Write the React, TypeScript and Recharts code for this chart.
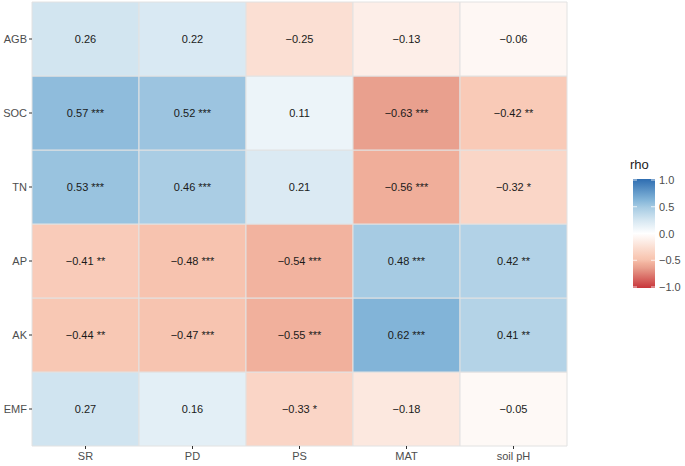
import { Bar, BarChart, Cell, LabelList, XAxis, YAxis } from 'recharts';

const columns = ['SR', 'PD', 'PS', 'MAT', 'soil pH'];
const rows = ['AGB', 'SOC', 'TN', 'AP', 'AK', 'EMF'];

const rhoAGB = [0.26, 0.22, -0.25, -0.13, -0.06];
const rhoSOC = [0.57, 0.52, 0.11, -0.63, -0.42];
const rhoTN = [0.53, 0.46, 0.21, -0.56, -0.32];
const rhoAP = [-0.41, -0.48, -0.54, 0.48, 0.42];
const rhoAK = [-0.44, -0.47, -0.55, 0.62, 0.41];
const rhoEMF = [0.27, 0.16, -0.33, -0.18, -0.05];

const sigAGB = ['', '', '', '', ''];
const sigSOC = ['***', '***', '', '***', '**'];
const sigTN = ['***', '***', '', '***', '*'];
const sigAP = ['**', '***', '***', '***', '**'];
const sigAK = ['**', '***', '***', '***', '**'];
const sigEMF = ['', '', '*', '', ''];

const rho = [rhoAGB, rhoSOC, rhoTN, rhoAP, rhoAK, rhoEMF];
const sig = [sigAGB, sigSOC, sigTN, sigAP, sigAK, sigEMF];

const legendTicks = [1.0, 0.5, 0.0, -0.5, -1.0];

// fill scale
const stops: [number, string][] = [
  [-1, '#C8353A'],
  [-0.63, '#E9A08E'],
  [-0.55, '#F1B09C'],
  [-0.48, '#F7C3AF'],
  [-0.42, '#F9CAB7'],
  [-0.25, '#FBDFD3'],
  [0, '#FFFFFF'],
  [0.25, '#D4E6F1'],
  [0.48, '#A6CBE3'],
  [0.62, '#82B4D8'],
  [1, '#2E6DB1'],
];

function hex(c: string) {
  return [1, 3, 5].map((i) => parseInt(c.slice(i, i + 2), 16));
}

function fillFor(v: number) {
  for (let i = 1; i < stops.length; i++) {
    const [v0, c0] = stops[i - 1];
    const [v1, c1] = stops[i];
    if (v <= v1) {
      const t = (v - v0) / (v1 - v0);
      const a = hex(c0);
      const b = hex(c1);
      const m = a.map((x, k) => Math.round(x + (b[k] - x) * t));
      return `rgb(${m[0]},${m[1]},${m[2]})`;
    }
  }
  return stops[stops.length - 1][1];
}

const fmt = (v: number) => v.toFixed(2).replace('-', '\u2212');

const data = columns.map((name) => {
  const d: Record<string, string | number> = { name };
  rows.forEach((r) => (d[r] = 1));
  return d;
});

// stacked bottom-up, so EMF first
const stackOrder = rows.map((_, i) => rows.length - 1 - i);

const font = 'Liberation Sans, Arial, sans-serif';

export default function App() {
  return (
    <div style={{ position: 'absolute', left: 0, top: 0, width: 685, height: 466, background: '#fff', fontFamily: font }}>
      <BarChart
        width={685}
        height={466}
        data={data}
        barCategoryGap={0}
        margin={{ top: 2, right: 118, bottom: 0, left: 0 }}
      >
        <XAxis
          dataKey="name"
          height={20}
          axisLine={false}
          tickSize={3}
          tickMargin={3}
          tickLine={{ stroke: '#333' }}
          tick={{ fontSize: 11, fill: '#4D4D4D', fontFamily: font }}
        />
        <YAxis
          type="number"
          domain={[0, 6]}
          ticks={[0.5, 1.5, 2.5, 3.5, 4.5, 5.5]}
          tickFormatter={(v: number) => rows[rows.length - 1 - Math.floor(v)]}
          width={32}
          axisLine={false}
          tickSize={3}
          tickMargin={2}
          tickLine={{ stroke: '#333' }}
          tick={{ fontSize: 11, fill: '#4D4D4D', fontFamily: font }}
        />
        {stackOrder.map((ri) => (
          <Bar key={rows[ri]} dataKey={rows[ri]} stackId="tiles" isAnimationActive={false}>
            {columns.map((c, ci) => (
              <Cell key={c} fill={fillFor(rho[ri][ci])} stroke="#E2E2E2" strokeWidth={1} />
            ))}
            <LabelList
              dataKey={rows[ri]}
              content={(p: any) => {
                const ci = p.index as number;
                const txt = fmt(rho[ri][ci]) + (sig[ri][ci] ? ' ' + sig[ri][ci] : '');
                return (
                  <text
                    x={p.x + p.width / 2}
                    y={p.y + p.height / 2}
                    textAnchor="middle"
                    dominantBaseline="central"
                    fontSize={11}
                    fill="#1A1A1A"
                    fontFamily={font}
                  >
                    {txt}
                  </text>
                );
              }}
            />
          </Bar>
        ))}
      </BarChart>
      <svg style={{ position: 'absolute', left: 600, top: 150 }} width={85} height={160}>
        <defs>
          <linearGradient id="rhoGrad" x1="0" y1="1" x2="0" y2="0">
            {stops.map(([v, c]) => (
              <stop key={v} offset={(v + 1) / 2} stopColor={c} />
            ))}
          </linearGradient>
        </defs>
        <text x={30} y={19} fontSize={13} fill="#1A1A1A" fontFamily={font}>
          rho
        </text>
        <rect x={33} y={29} width={22} height={109} fill="url(#rhoGrad)" />
        {legendTicks.map((t) => {
          const y = 30 + ((1 - t) / 2) * 107;
          return (
            <g key={t}>
              <line x1={33} x2={37} y1={y} y2={y} stroke="#fff" strokeWidth={0.8} />
              <line x1={51} x2={55} y1={y} y2={y} stroke="#fff" strokeWidth={0.8} />
              <text x={59} y={y} dominantBaseline="central" fontSize={11} fill="#4D4D4D" fontFamily={font}>
                {t.toFixed(1).replace('-', '\u2212')}
              </text>
            </g>
          );
        })}
      </svg>
    </div>
  );
}
